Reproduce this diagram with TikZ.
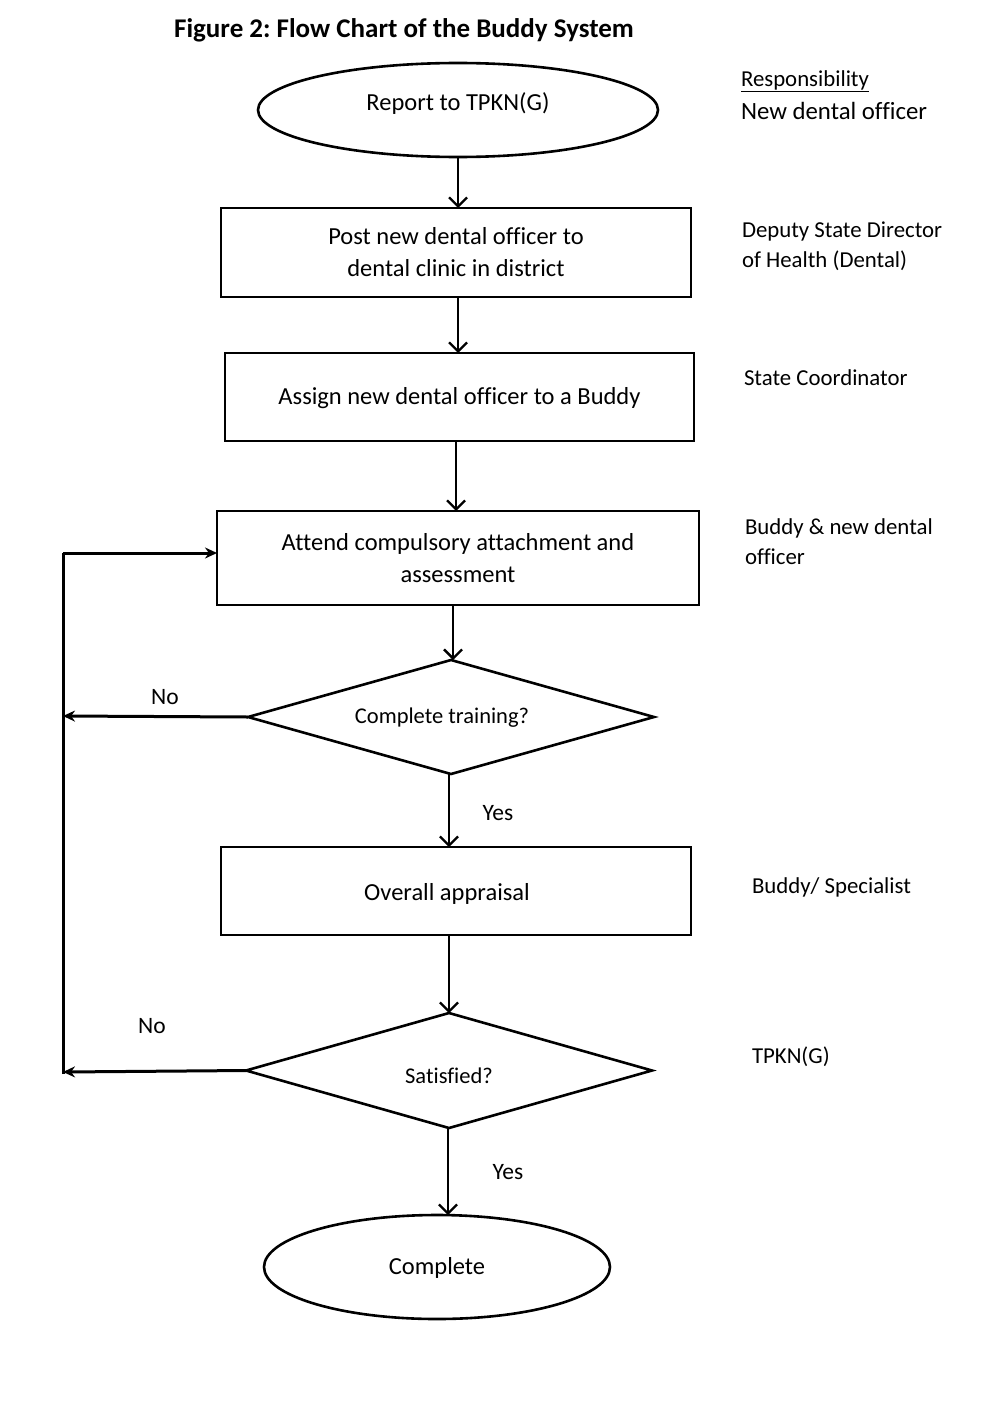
\documentclass[tikz,border=0pt]{standalone}
\usepackage{fontspec}
\setmainfont{Carlito}[Ligatures=NoCommon]
\usetikzlibrary{shapes.geometric,arrows.meta}
\newcommand{\shiftup}[2]{\raisebox{#1}[\height][\depth]{#2}}
\frenchspacing
\begin{document}
\begin{tikzpicture}[x=1pt,y=-1pt,
  every node/.style={inner sep=0pt,outer sep=0pt},
  boxtext/.style={font=\fontsize{24.5}{32}\selectfont,align=center},
  stepbox/.style={draw,line width=2.6pt,rectangle,boxtext},
  oval/.style={draw,line width=2.6pt,ellipse,boxtext},
  decision/.style={draw,line width=2.6pt,diamond,aspect=3.56,font=\fontsize{22.5}{26}\selectfont},
  resp/.style={anchor=west,font=\fontsize{22.8}{30}\selectfont,align=left},
  lbl/.style={font=\fontsize{23.5}{26}\selectfont},
  flow/.style={line width=2.6pt,-{Straight Barb[length=9pt,width=18pt,line width=2.3pt]}},
  loop/.style={line width=3pt},
  looparrow/.style={line width=3pt,-{Stealth[length=12pt,width=11pt]}}
]
\useasboundingbox (0,0) rectangle (984,1402);

\node[font=\bfseries\fontsize{27}{30}\selectfont] (title) at (404,30) {Figure 2: Flow Chart of the Buddy System};

\node[oval,minimum width=400,minimum height=94] (start) at (458,110) {\shiftup{6pt}{Report to TPKN(G)}};
\node[stepbox,minimum width=470,minimum height=89] (post) at (456,252.5) {Post new dental officer to\\dental clinic in district};
\node[stepbox,minimum width=469,minimum height=88] (assign) at (459.5,397) {\shiftup{-1pt}{Assign new dental officer to a Buddy}};
\node[stepbox,minimum width=482,minimum height=94] (attend) at (458,558) {Attend compulsory attachment and\\assessment};
\node[decision,minimum width=406,minimum height=114] (train) at (451,717) {\shiftup{-1pt}{\hspace*{-18pt}Complete training?}};
\node[stepbox,minimum width=470,minimum height=88] (appraisal) at (456,891) {\shiftup{-3pt}{\hspace*{-18pt}Overall appraisal}};
\node[decision,minimum width=406,minimum height=115] (satis) at (449,1070.5) {\shiftup{-5pt}{Satisfied?}};
\node[oval,minimum width=346,minimum height=104] (done) at (437,1267) {\shiftup{-1pt}{Complete}};

% main flow
\coordinate (a1) at (458,157);
\coordinate (a2) at (458,297);
\coordinate (a3) at (456,441);
\coordinate (a4) at (453,605);
\coordinate (a5) at (449,774);
\coordinate (a6) at (449,935);
\coordinate (a7) at (448,1128);
\draw[flow] (a1) -- (a1|-post.north);
\draw[flow] (a2) -- (a2|-assign.north);
\draw[flow] (a3) -- (a3|-attend.north);
\draw[flow] (a4) -- (a4|-train.north);
\draw[flow] (a5) -- (a5|-appraisal.north);
\draw[flow] (a6) -- (a6|-satis.north);
\draw[flow] (a7) -- (a7|-done.north);

% loop back
\coordinate (ltop) at (63,553);
\coordinate (lmid) at (63,716);
\coordinate (lbot) at (63,1072);
\coordinate (lend) at (63,1074);
\draw[loop] (lend) -- (ltop);
\draw[looparrow] (ltop) -- (attend.west|-ltop);
\draw[looparrow] (train.west) -- (lmid);
\draw[looparrow] (satis.west) -- (lbot);

\node[lbl] (no1) at (165,697) {No};
\node[lbl] (no2) at (152,1026) {No};
\node[lbl] (yes1) at (498,813) {Yes};
\node[lbl] (yes2) at (508,1172) {Yes};

% responsibilities
\node[resp] (rhead) at (741,81) {\underline{Responsibility}};
\node[resp,font=\fontsize{24.8}{30}\selectfont] (r1) at (741,111) {New dental officer};
\node[resp] (r2) at (742,246) {Deputy State Director\\of Health (Dental)};
\node[resp] (r3) at (744,378) {State Coordinator};
\node[resp] (r4) at (745,542) {Buddy \& new dental\\officer};
\node[resp] (r5) at (752,887) {Buddy/ Specialist};
\node[resp] (r6) at (752,1057) {TPKN(G)};
\end{tikzpicture}
\end{document}
